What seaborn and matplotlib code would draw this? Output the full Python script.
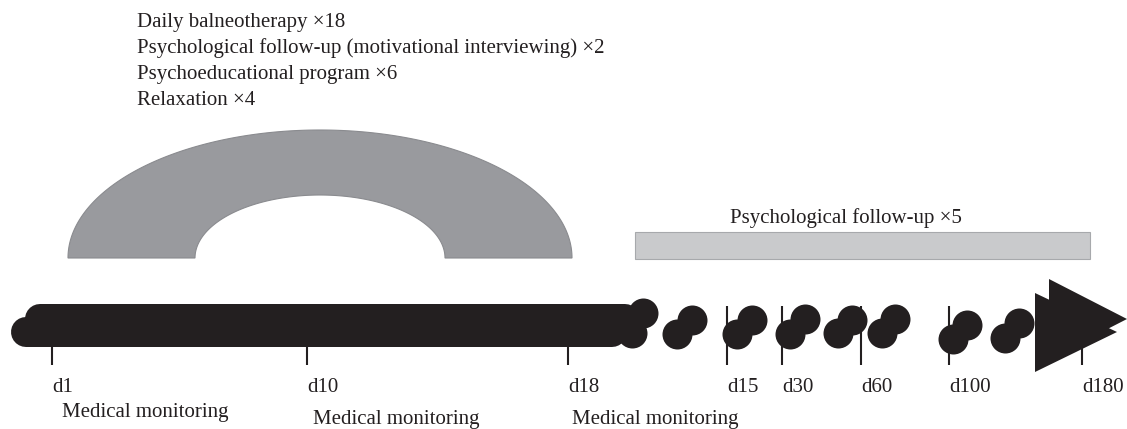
#!/usr/bin/env python3
import numpy as np
import pandas as pd
import seaborn as sns
import matplotlib.pyplot as plt
from matplotlib.patches import Polygon, Rectangle

# timeline data (pixel positions along the drawing)
tick_labels = ['d1', 'd10', 'd18', 'd15', 'd30', 'd60', 'd100', 'd180']
tick_x = [52, 307, 568, 727, 782, 861, 949, 1082]

monitor_x = [62, 313, 572]
monitor_y = [417, 424, 424]

intervention_lines = ['Daily balneotherapy \u00d718',
                      'Psychological follow-up (motivational interviewing) \u00d72',
                      'Psychoeducational program \u00d76',
                      'Relaxation \u00d74']
followup_label = 'Psychological follow-up \u00d75'

# follow-up sessions drawn as pairs of dots (lower-left / upper-right)
dot_low_x = [632, 677, 737, 790, 838, 882, 953, 1005]
dot_low_y = [333, 334, 334, 334, 333, 333, 339, 338]
dot_up_x = [643, 692, 752, 805, 852, 895, 967, 1019]
dot_up_y = [313, 320, 320, 319, 320, 319, 325, 323]

BLACK = '#231f20'

sns.set_theme(style='white')
plt.rcParams['font.family'] = ['Liberation Serif', 'DejaVu Serif']

fig = plt.figure(figsize=(11.27, 4.29), dpi=100)
ax = fig.add_axes([0, 0, 1, 1])
ax.set_xlim(0, 1127)
ax.set_ylim(429, 0)
ax.axis('off')

FS = 15

# text block at the top
for i, line in enumerate(intervention_lines):
    ax.text(137, 27 + 26 * i, line, fontsize=FS, color=BLACK, va='baseline', ha='left')

# grey half ring (stay period)
cx, base = 320, 258
t = np.linspace(0, np.pi, 200)
outer = np.column_stack([cx + 252 * np.cos(t), base - 128 * np.sin(t)])
inner = np.column_stack([cx + 125 * np.cos(t[::-1]), base - 63 * np.sin(t[::-1])])
ax.add_patch(Polygon(np.vstack([outer, inner]), closed=True,
                     facecolor='#999a9e', edgecolor='#8a8b8f', lw=0.8, zorder=2))

# light bar for follow-up
ax.add_patch(Rectangle((635, 232), 455, 27, facecolor='#c9cacc',
                       edgecolor='#a7a9ac', lw=0.8, zorder=2))
ax.text(730, 223, followup_label, fontsize=FS, color=BLACK, va='baseline', ha='left')

# thick black bar (daily sessions)
lw = 30 * 72 / 100
ax.plot([26, 612], [332, 332], color=BLACK, lw=lw, solid_capstyle='round', zorder=3)
ax.plot([40, 625], [319, 319], color=BLACK, lw=lw, solid_capstyle='round', zorder=3)

# dot pairs
dots = pd.DataFrame({'x': dot_low_x + dot_up_x, 'y': dot_low_y + dot_up_y})
sns.scatterplot(data=dots, x='x', y='y', s=lw ** 2, color=BLACK, linewidth=0,
                legend=False, ax=ax, zorder=4)
ax.set_xlim(0, 1127)
ax.set_ylim(429, 0)
ax.axis('off')

# double arrow head at the end
ax.add_patch(Polygon([(1049, 279), (1049, 359), (1127, 319)], closed=True,
                     facecolor=BLACK, edgecolor='none', zorder=4))
ax.add_patch(Polygon([(1035, 293), (1035, 372), (1117, 332)], closed=True,
                     facecolor=BLACK, edgecolor='none', zorder=4))

# ticks and labels
ax.vlines(tick_x, 306, 365, color=BLACK, lw=1.5, zorder=5)
for x, lab in zip(tick_x, tick_labels):
    ax.text(x, 392, lab, fontsize=FS, color=BLACK, va='baseline', ha='left')

for x, y in zip(monitor_x, monitor_y):
    ax.text(x, y, 'Medical monitoring', fontsize=FS, color=BLACK, va='baseline', ha='left')

fig.savefig('out.png', dpi=100)
